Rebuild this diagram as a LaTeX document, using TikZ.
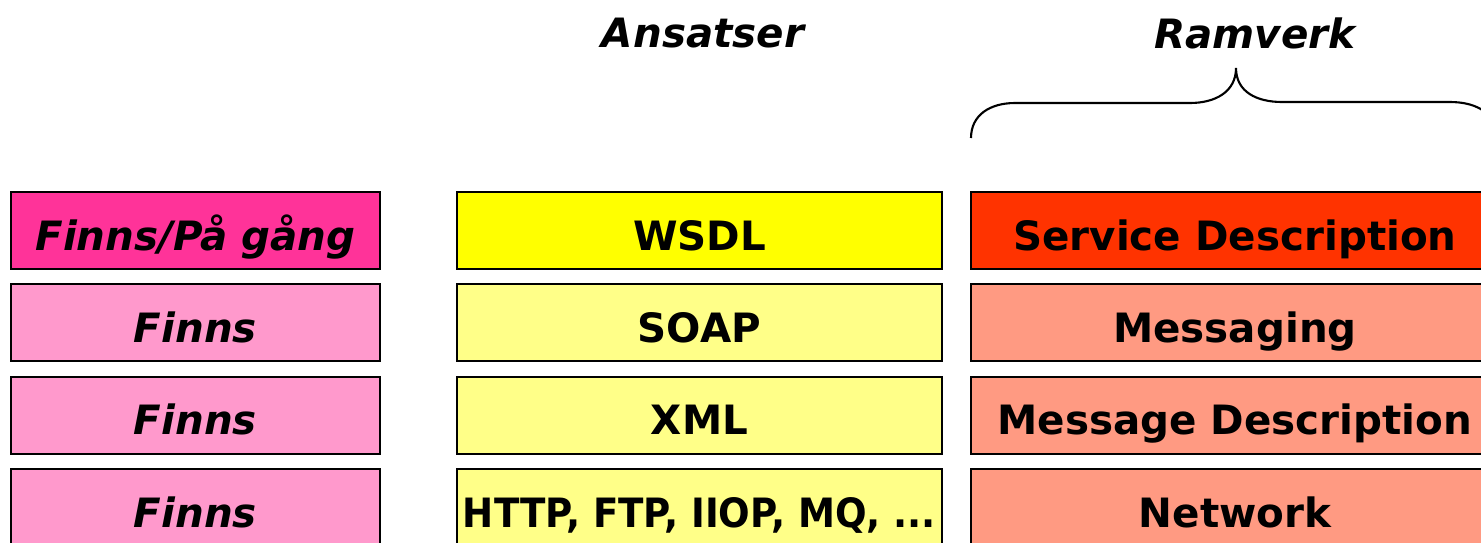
\documentclass[tikz,border=0pt]{standalone}
\usepackage{fontspec}
\setmainfont{DejaVu Sans}
\usepackage{tikz}
\usetikzlibrary{positioning}

\definecolor{pinkfull}{HTML}{FF3399}
\definecolor{pinklight}{HTML}{FF99CC}
\definecolor{yellowfull}{HTML}{FFFF00}
\definecolor{yellowlight}{HTML}{FFFF88}
\definecolor{redfull}{HTML}{FF3300}
\definecolor{redlight}{HTML}{FF9A82}

\begin{document}
\begin{tikzpicture}[x=0.02cm, y=-0.02cm,
  layer/.style={draw=black, line width=1.1pt, minimum height=1.54cm, inner sep=0pt,
    text height=0.9cm, text depth=0.12cm,
    font=\fontsize{23}{26}\selectfont\bfseries},
  status/.style={layer, minimum width=7.38cm, font=\fontsize{23}{26}\selectfont\bfseries\itshape},
  approach/.style={layer, minimum width=9.70cm},
  frame/.style={layer, minimum width=10.56cm},
  heading/.style={font=\fontsize{23}{26}\selectfont\bfseries\itshape}]
\useasboundingbox (0,0) rectangle (1481,542);
\clip (0,0) rectangle (1481,542);

% Headings
\node[heading] (ansatser) at (703,33) {Ansatser};
\node[heading] (ramverk) at (1255,33) {Ramverk};

% Left column
\node[status, fill=pinkfull] (s1) at (195.5,230.5) {Finns/På gång};
\node[status, fill=pinklight, below=0.27cm of s1] (s2) {Finns};
\node[status, fill=pinklight, below=0.27cm of s2] (s3) {Finns};
\node[status, fill=pinklight, below=0.27cm of s3] (s4) {Finns};

% Middle column
\node[approach, fill=yellowfull] (a1) at (699.5,230.5) {WSDL};
\node[approach, fill=yellowlight, below=0.27cm of a1] (a2) {SOAP};
\node[approach, fill=yellowlight, below=0.27cm of a2] (a3) {XML};
\node[approach, fill=yellowlight, below=0.27cm of a3] (a4) {\addfontfeatures{FakeStretch=0.92}HTTP, FTP, IIOP, MQ, ...};

% Right column
\node[frame, fill=redfull] (r1) at (1235,230.5) {Service Description};
\node[frame, fill=redlight, below=0.27cm of r1] (r2) {Messaging};
\node[frame, fill=redlight, below=0.27cm of r2] (r3) {Message Description};
\node[frame, fill=redlight, below=0.27cm of r3] (r4) {Network};

% Brace
\draw[line width=1.2pt] (971,138) .. controls (971,115) and (990,103) .. (1015,103)
  -- (1190,103) .. controls (1215,103) and (1236,92) .. (1236,68)
  .. controls (1236,92) and (1257,102) .. (1282,102)
  -- (1450,102) .. controls (1475,102) and (1490,112) .. (1495,125);
\end{tikzpicture}
\end{document}
